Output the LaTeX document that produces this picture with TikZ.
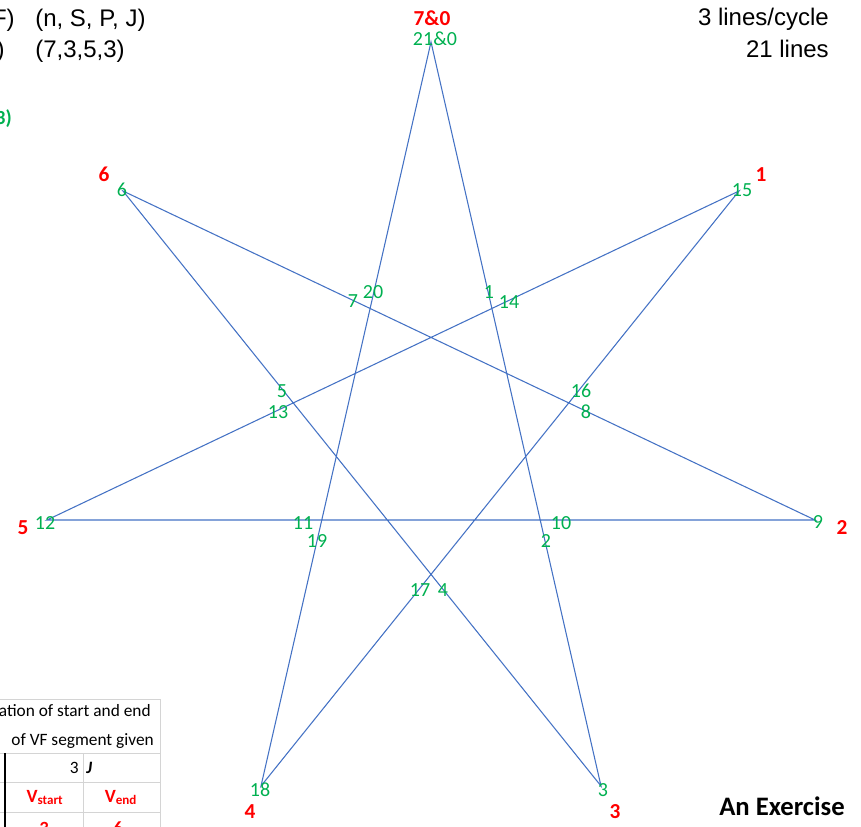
\documentclass[tikz,border=0pt]{standalone}
\usepackage{fontspec}
\setmainfont{Carlito}
\newfontfamily\arialfont{Liberation Sans}
\usepackage{tikz}
\usetikzlibrary{positioning}
\definecolor{linhaazul}{RGB}{68,114,196}
\definecolor{rotverde}{RGB}{0,176,80}
\definecolor{rotvermelho}{RGB}{255,0,0}
\definecolor{grade}{RGB}{212,212,212}

\begin{document}
\begin{tikzpicture}[x=0.75pt, y=-0.75pt,
    edge/.style={draw=linhaazul, line width=0.8pt, line join=miter},
    ptlabel/.style={text=rotverde, inner sep=0pt, font=\fontsize{15}{18}\selectfont},
    vxlabel/.style={text=rotvermelho, inner sep=0pt, font=\fontsize{16}{19}\selectfont\bfseries},
    info/.style={inner sep=0pt, font=\arialfont\fontsize{18}{21}\selectfont},
    cell/.style={inner sep=0pt, font=\fontsize{13}{15}\selectfont},
    cellred/.style={inner sep=0pt, text=rotvermelho, font=\fontsize{14}{16}\selectfont\bfseries},
    gridline/.style={draw=grade, line width=0.75pt}
]
    \useasboundingbox (0,0) rectangle (861,827);
    \clip (0,0) rectangle (861,827);

    % Vertices of the heptagram
    \coordinate (v0) at (431,42);
    \coordinate (v1) at (739,191);
    \coordinate (v2) at (815,520);
    \coordinate (v3) at (601,786);
    \coordinate (v4) at (261,786);
    \coordinate (v5) at (47,520);
    \coordinate (v6) at (123,191);

    % Star path {7/3}
    \draw[edge] (v0) -- (v3) -- (v6) -- (v2) -- (v5) -- (v1) -- (v4) -- cycle;

    % Vertex numbers
    \node[vxlabel] (r0) at (432,18) {7\&0};
    \node[vxlabel] (r1) at (761,175) {1};
    \node[vxlabel] (r2) at (842,528) {2};
    \node[vxlabel] (r3) at (615,812) {3};
    \node[vxlabel] (r4) at (250,812) {4};
    \node[vxlabel] (r5) at (23,528) {5};
    \node[vxlabel] (r6) at (104,174) {6};

    % Line counter labels
    \node[ptlabel] (p0) at (435,39) {21\&0};
    \node[ptlabel] (p1) at (489,292) {1};
    \node[ptlabel] (p2) at (546,541) {2};
    \node[ptlabel] (p3) at (603,790) {3};
    \node[ptlabel] (p4) at (443,590) {4};
    \node[ptlabel] (p5) at (282,391) {5};
    \node[ptlabel] (p6) at (122,190) {6};
    \node[ptlabel] (p7) at (353,301) {7};
    \node[ptlabel] (p8) at (586,412) {8};
    \node[ptlabel] (p9) at (818,522) {9};
    \node[ptlabel] (p10) at (561,523) {10};
    \node[ptlabel] (p11) at (303,523) {11};
    \node[ptlabel] (p12) at (45,523) {12};
    \node[ptlabel] (p13) at (278,412) {13};
    \node[ptlabel] (p14) at (509,302) {14};
    \node[ptlabel] (p15) at (742,190) {15};
    \node[ptlabel] (p16) at (581,391) {16};
    \node[ptlabel] (p17) at (420,590) {17};
    \node[ptlabel] (p18) at (260,790) {18};
    \node[ptlabel] (p19) at (317,541) {19};
    \node[ptlabel] (p20) at (373,292) {20};

    % Header texts
    \node[info, anchor=base east] (hd1) at (15,26.5) {F)};
    \node[info, anchor=base west] (par) at (35,26.5) {(n, S, P, J)};
    \node[info, anchor=base east] (hd2) at (5,58) {)};
    \node[info, anchor=base west] (val) at (35,58) {(7,3,5,3)};
    \node[ptlabel, anchor=base east, font=\fontsize{15}{18}\selectfont\bfseries] (hd3) at (12,125) {3)};
    \node[info, anchor=base east] (cyc) at (829,26) {3 lines/cycle};
    \node[info, anchor=base east] (tot) at (829,58) {21 lines};
    \node[inner sep=0pt, anchor=base east, font=\fontsize{20}{24}\selectfont\bfseries] (title) at (845,815) {An Exercise};

    % Table
    \draw[gridline] (0,699) -- (160,699);
    \draw[gridline] (0,753) -- (160,753);
    \draw[gridline] (0,782) -- (160,782);
    \draw[gridline] (0,812) -- (160,812);
    \draw[gridline] (83,753) -- (83,827);
    \draw[gridline] (160,699) -- (160,827);
    \draw[line width=1.5pt] (5,753) -- (5,827);
    \node[cell, anchor=base east] (t1) at (151,716) {ation of start and end};
    \node[cell, anchor=base east] (t2) at (154,745) {of VF segment given};
    \node[cell, anchor=base east] (jval) at (79,773) {3};
    \node[cell, anchor=base west, font=\fontsize{13}{15}\selectfont\bfseries\itshape] (jlab) at (86,773) {J};
    \node[cellred, anchor=base] (vs) at (45,802) {V\textsubscript{start}};
    \node[cellred, anchor=base] (ve) at (121,802) {V\textsubscript{end}};
    \node[cellred, anchor=base] (s0) at (44,834) {3};
    \node[cellred, anchor=base] (e0) at (118,834) {6};
\end{tikzpicture}
\end{document}
